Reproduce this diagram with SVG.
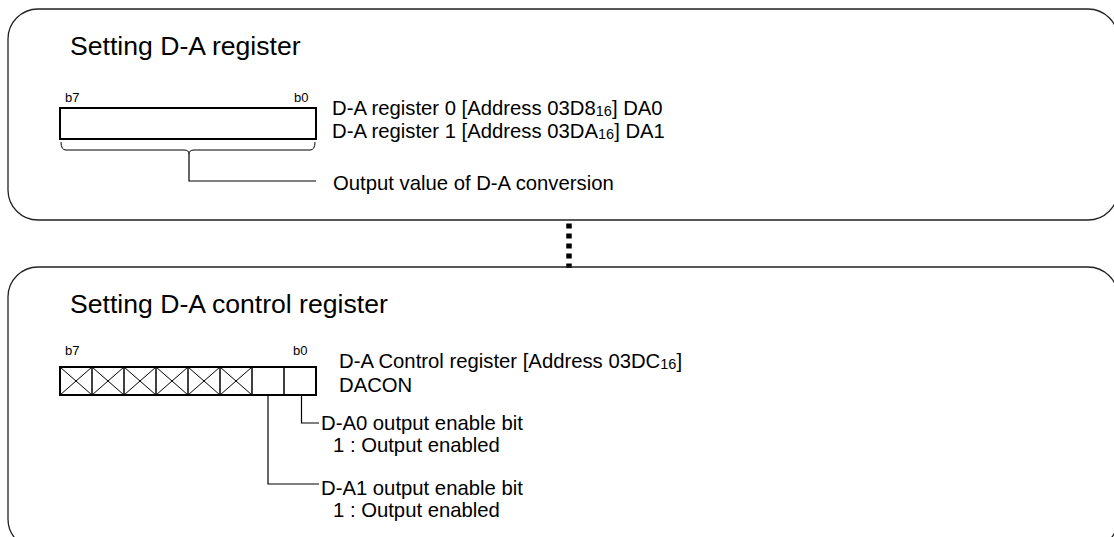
<svg xmlns="http://www.w3.org/2000/svg" width="1114" height="537" viewBox="0 0 1114 537">
<style>
  text { font-family: "Liberation Sans", Arial, sans-serif; fill: #000; }
  .title { font-size: 26.6px; }
  .lbl { font-size: 20.3px; }
  .bit { font-size: 13px; }
  .sub { font-size: 14.5px; }
  .panel { fill: none; stroke: #222; stroke-width: 1.3; }
  .reg { fill: #fff; stroke: #000; stroke-width: 2; }
  .cell { fill: none; stroke: #000; stroke-width: 1.5; }
  .x { stroke: #000; stroke-width: 1; fill: none; }
  .conn { fill: none; stroke: #000; stroke-width: 1.2; }
</style>
<rect width="1114" height="537" fill="#fff"/>

<g id="dots">
  <line x1="569" y1="223.5" x2="569" y2="268" stroke="#000" stroke-width="5.5" stroke-dasharray="5 5"/>
</g>

<g id="panel-da-register">
  <rect class="panel" x="8" y="9" width="1110" height="211" rx="30" ry="30"/>
  <text class="title" x="70" y="55">Setting D-A register</text>
  <text class="bit" x="65" y="102">b7</text>
  <text class="bit" x="294" y="102">b0</text>
  <rect class="reg" x="60" y="108" width="256" height="31"/>
  <text class="lbl" x="332" y="115">D-A register 0 [Address 03D8<tspan class="sub" dy="1">16</tspan><tspan dy="-1">] DA0</tspan></text>
  <text class="lbl" x="332" y="138">D-A register 1 [Address 03DA<tspan class="sub" dy="1">16</tspan><tspan dy="-1">] DA1</tspan></text>
  <text class="lbl" x="333" y="190">Output value of D-A conversion</text>
</g>

<g id="panel-dacon">
  <rect class="panel" x="8" y="267" width="1110" height="282" rx="30" ry="30"/>
  <text class="title" x="70" y="313">Setting D-A control register</text>
  <text class="bit" x="65" y="355">b7</text>
  <text class="bit" x="293" y="355">b0</text>
  <rect class="reg" x="60" y="367" width="256" height="28"/>
  <g class="cell">
    <line x1="92" y1="367" x2="92" y2="395"/>
    <line x1="124" y1="367" x2="124" y2="395"/>
    <line x1="156" y1="367" x2="156" y2="395"/>
    <line x1="188" y1="367" x2="188" y2="395"/>
    <line x1="220" y1="367" x2="220" y2="395"/>
    <line x1="252" y1="367" x2="252" y2="395"/>
    <line x1="284" y1="367" x2="284" y2="395"/>
  </g>
  <path class="x" d="M60,367 L92,395 M92,367 L60,395 M92,367 L124,395 M124,367 L92,395 M124,367 L156,395 M156,367 L124,395 M156,367 L188,395 M188,367 L156,395 M188,367 L220,395 M220,367 L188,395 M220,367 L252,395 M252,367 L220,395"/>
  <text class="lbl" x="339" y="368">D-A Control register [Address 03DC<tspan class="sub" dy="1">16</tspan><tspan dy="-1">]</tspan></text>
  <text class="lbl" x="339" y="391.5">DACON</text>
  <text class="lbl" x="321" y="430">D-A0 output enable bit</text>
  <text class="lbl" x="333" y="451.5">1 : Output enabled</text>
  <text class="lbl" x="321" y="495">D-A1 output enable bit</text>
  <text class="lbl" x="333" y="516.5">1 : Output enabled</text>
</g>

<g id="connectors">
  <path class="x" d="M61,142 Q61,150 66,150 L184,150 Q189,150 189,154 Q189,150 194,150 L310,150 Q315,150 315,142"/>
  <path class="conn" d="M189,154 L189,181 L316,181"/>
  <path class="conn" d="M301.5,395 L301.5,423 L319,423"/>
  <path class="conn" d="M268,395 L268,484 L319,484"/>
</g>
</svg>
